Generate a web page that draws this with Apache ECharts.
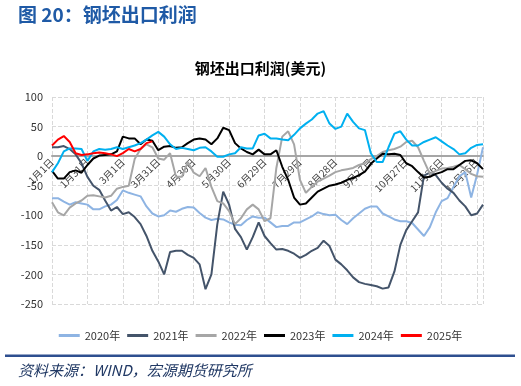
<!DOCTYPE html>
<html><head><meta charset="utf-8">
<script src="https://cdn.jsdelivr.net/npm/echarts@6/dist/echarts.min.js"></script>
<style>html,body{margin:0;padding:0;background:#fff}#c{width:521px;height:386px}</style>
</head><body><div id="c"></div>
<script>
const days = [0,5,10,15,20,25,30,35,40,45,50,55,60,65,70,75,80,85,90,95,100,105,110,115,120,125,130,135,140,145,150,155,160,165,170,175,180,185,190,195,200,205,210,215,220,225,230,235,240,245,250,255,260,265,270,275,280,285,290,295,300,305,310,315,320,325,330,335,340,345,350,355,360,365];
const tickLabels = ['1月1日','1月31日','3月1日','3月31日','4月30日','5月30日','6月29日','7月29日','8月28日','9月27日','10月27日','11月26日','12月26日'];
const names = ['2020年','2021年','2022年','2023年','2024年','2025年'];
const colors = ['#8eb4e3','#44546a','#a6a6a6','#000000','#00b0f0','#ff0000'];
const y2020 = [-71,-71,-77,-82,-78,-80,-82,-90,-90,-85,-82,-74,-58,-62,-65,-68,-85,-97,-102,-100,-92,-94,-89,-86,-87,-96,-104,-108,-106,-107,-112,-116,-117,-108,-102,-104,-104,-112,-120,-118,-118,-112,-112,-107,-102,-95,-98,-100,-99,-108,-115,-105,-97,-89,-85,-85,-97,-102,-107,-110,-110,-113,-124,-135,-120,-95,-76,-71,-52,-34,-27,-70,-31,15];
const y2021 = [15,15,17,12,3,-12,-35,-50,-57,-75,-92,-86,-98,-95,-103,-115,-135,-160,-178,-200,-162,-160,-160,-167,-172,-183,-225,-200,-115,-60,-82,-123,-137,-158,-137,-112,-135,-147,-158,-157,-160,-165,-172,-167,-160,-155,-143,-152,-175,-183,-193,-205,-213,-216,-218,-220,-224,-222,-195,-150,-125,-110,-95,-33,-28,-32,-45,-55,-62,-75,-85,-100,-97,-82];
const y2022 = [-78,-95,-100,-87,-80,-75,-67,-66,-68,-70,-67,-55,-52,-50,-5,12,20,15,-4,-6,5,-35,-35,-10,-28,-34,-20,-52,-76,-80,-93,-115,-105,-90,-82,-90,-110,-105,-20,33,42,20,-40,-62,-52,-43,-38,-33,-27,-24,-22,-20,-15,-12,-5,0,7,10,12,16,24,26,15,-8,-30,-25,-21,-20,-18,-15,-22,-30,-34,-35];
const y2023 = [-25,-38,-38,-27,-24,-28,-15,-4,1,2,3,8,33,30,30,20,28,26,10,16,17,14,15,22,28,30,28,20,30,48,44,22,13,7,3,11,3,3,10,-18,-40,-70,-82,-80,-70,-60,-55,-50,-48,-45,-40,-37,-32,-26,-13,-4,4,3,4,2,-12,-17,-27,-36,-35,-30,-27,-22,-22,-15,-8,-7,-12,-22];
const y2024 = [-27,-12,8,13,13,12,-8,8,12,11,12,15,12,15,18,22,28,35,41,33,20,12,14,12,10,14,15,8,-1,-1,3,5,15,13,13,35,38,30,30,28,27,36,47,55,62,72,76,55,46,50,72,58,47,44,5,-10,-10,15,38,42,28,18,18,24,28,32,25,18,12,3,5,14,19,20];
const y2025 = [18,28,34,24,5,2,3,5,6,5,3,0,5,12,8,12,22,25];
const values = [y2020,y2021,y2022,y2023,y2024,y2025];

const chart = echarts.init(document.getElementById('c'));
const font = '"Noto Sans CJK SC","Noto Sans",sans-serif';
chart.setOption({
  animation: false,
  backgroundColor: '#fff',
  textStyle: {fontFamily: font},
  title: {text: '钢坯出口利润(美元)', left: 'center', top: 56,
    textStyle: {fontSize: 15, fontWeight: 'bold', color: '#000', fontFamily: font}},
  grid: {left: 52, right: 38, top: 97, bottom: 82},
  legend: {top: 325, left: 'center', itemWidth: 21, itemHeight: 3, itemGap: 7,
    textStyle: {fontSize: 11, color: '#333'},
    data: names.map(n => ({name: n, icon: 'rect', itemStyle: {borderWidth: 0}}))},
  xAxis: {type: 'value', min: 0, max: 365, interval: 30, offset: 0,
    axisLine: {show: true, onZero: false, lineStyle: {color: '#a6a6a6', width: 2}},
    axisTick: {show: false},
    axisLabel: {rotate: 45, fontSize: 10, color: '#404040', margin: 4,
      formatter: v => tickLabels[v / 30] || ''},
    splitLine: {show: true, lineStyle: {color: '#d9d9d9', type: 'dashed'}}},
  yAxis: {type: 'value', min: -250, max: 100, interval: 50,
    axisLine: {show: false, onZero: false}, axisTick: {show: false},
    axisLabel: {fontSize: 11, color: '#333', margin: 9},
    splitLine: {lineStyle: {color: '#d9d9d9', type: 'dashed'}}},
  series: values.map((arr, k) => ({
    name: names[k], type: 'line', symbol: 'none',
    lineStyle: {width: 2, color: colors[k]}, itemStyle: {color: colors[k]},
    data: arr.map((v, i) => [days[i], v])
  })),
  graphic: [
    {type: 'text', left: 18, top: 5, style: {text: '图 20：钢坯出口利润', fontSize: 19, fontWeight: 'bold', fill: '#1f5aa6', fontFamily: font}},
    {type: 'rect', shape: {x: 5, y: 354.5, width: 510, height: 2.5}, style: {fill: '#2e4f8f'}},
    {type: 'text', left: 18, top: 363, style: {text: '资料来源：WIND，宏源期货研究所', fontSize: 15, fontStyle: 'italic', fill: '#203864', fontFamily: font}}
  ]
});
// move the x axis (line + labels) up to the zero level using the library's own y scale
const yZero = chart.convertToPixel({yAxisIndex: 0}, 0);
const yMin = chart.convertToPixel({yAxisIndex: 0}, -250);
chart.setOption({xAxis: {offset: yZero - yMin}});
</script></body></html>
